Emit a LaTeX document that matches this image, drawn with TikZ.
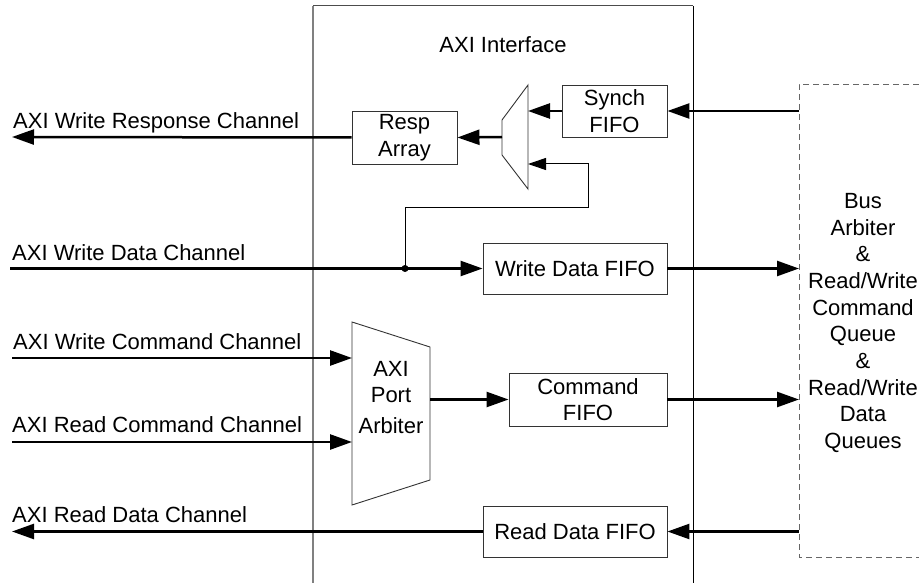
\documentclass[tikz,border=0pt]{standalone}
\usepackage{fontspec}
\setmainfont{Liberation Sans}
\usetikzlibrary{arrows.meta}
\begin{document}
\begin{tikzpicture}[x=1pt,y=-1pt,
  font=\fontsize{22}{26.7}\selectfont,
  box/.style={draw=black!80, line width=0.9pt, fill=white, align=center, inner sep=0pt},
  bus/.style={line width=2.5pt, -{Triangle[length=22pt,width=15pt]}},
  thinline/.style={line width=0.9pt, draw=black!80},
  lbl/.style={anchor=base west, inner sep=0pt}]
\useasboundingbox (0,0) rectangle (919,583);

% AXI interface frame
\draw[line width=1.6pt, black!50] (313,583) -- (313,6);
\draw[line width=1pt, black!70] (313,6) -- (693,6);
\draw[line width=1pt, black] (693,6) -- (693,583);
\node[inner sep=0pt, anchor=base] (title) at (503,53) {AXI Interface};

% bus arbiter dashed frame
\draw[line width=0.9pt, black!60, dash pattern=on 6pt off 4pt] (919,84) -- (799,84) -- (799,557) -- (919,557);
\node[align=center, inner sep=0pt] (busarb) at (863,323) {Bus\\Arbiter\\\&\\Read/Write\\Command\\Queue\\\&\\Read/Write\\Data\\Queues};

% boxes
\node[box, minimum width=105pt, minimum height=53pt] (resp) at (404.5,137.5) {Resp\\Array};
\node[box, minimum width=105pt, minimum height=52pt] (synch) at (614.5,111) {Synch\\FIFO};
\node[box, minimum width=184pt, minimum height=51pt] (wdf) at (575,268.5) {Write Data FIFO};
\node[box, minimum width=158pt, minimum height=53pt] (cmd) at (588,399.5) {Command\\FIFO};
\node[box, minimum width=184pt, minimum height=51pt] (rdf) at (575,531.5) {Read Data FIFO};

% response mux
\draw[thinline, fill=white] (528,85) -- (528,189) -- (502,155) -- (502,120) -- cycle;
\coordinate (muxo) at (502,137);
\coordinate (muxa) at (528,111);
\coordinate (muxb) at (528,164);

% AXI port arbiter
\draw[thinline, fill=white] (352,322) -- (430,347) -- (430,480) -- (352,505) -- cycle;
\node[inner sep=0pt, anchor=base] (ar1) at (391,376) {AXI};
\node[inner sep=0pt, anchor=base] (ar2) at (391,402) {Port};
\node[inner sep=0pt, anchor=base] (ar3) at (391,433) {Arbiter};
\coordinate (arbA) at (352,358);
\coordinate (arbB) at (352,442);
\coordinate (arbO) at (430,399.5);

% end coordinates
\coordinate (wrsp) at (12,137);
\coordinate (wdat) at (10,268.5);
\coordinate (wcmd) at (12,358);
\coordinate (rcmd) at (12,442);
\coordinate (rdat) at (12,531.5);
\coordinate (b1) at (799,111);
\coordinate (b2) at (799,268.5);
\coordinate (b3) at (799,399.5);
\coordinate (b4) at (799,531.5);
\coordinate (jn) at (405,268.5);
\coordinate (fb) at (588,208);

% connectors
\draw[bus] (b1) -- (synch.east);
\draw[bus] (synch.west) -- (muxa);
\draw[bus] (muxo) -- (resp.east);
\draw[bus] (resp.west) -- (wrsp);
\draw[line width=2.5pt] (wdat) -- (jn);
\draw[bus] (jn) -- (wdf.west);
\fill (jn) circle (3.5pt);
\draw[line width=1pt, black, -{Triangle[length=18pt,width=12pt]}] (jn) |- (fb) |- (muxb);
\draw[bus] (wdf.east) -- (b2);
\draw[bus] (wcmd) -- (arbA);
\draw[bus] (rcmd) -- (arbB);
\draw[bus] (arbO) -- (cmd.west);
\draw[bus] (cmd.east) -- (b3);
\draw[bus] (b4) -- (rdf.east);
\draw[bus] (rdf.west) -- (rdat);

% labels
\node[lbl] (l1) at (13,128.5) {AXI Write Response Channel};
\node[lbl] (l2) at (12,260) {AXI Write Data Channel};
\node[lbl] (l3) at (13,349) {AXI Write Command Channel};
\node[lbl] (l4) at (12,432.5) {AXI Read Command Channel};
\node[lbl] (l5) at (12,522) {AXI Read Data Channel};
\end{tikzpicture}
\end{document}
